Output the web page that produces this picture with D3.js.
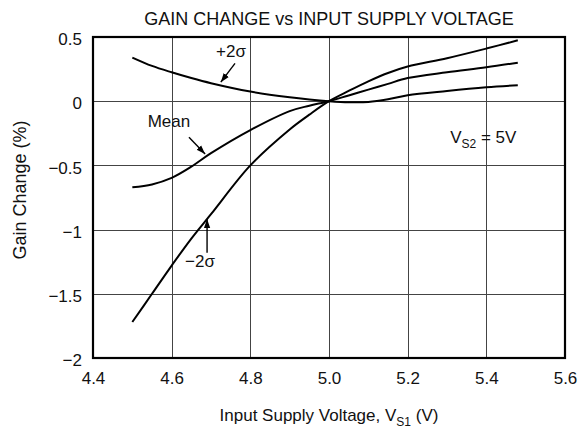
<!DOCTYPE html>
<html lang="en">
<head>
<meta charset="UTF-8">
<title>Gain Change vs Input Supply Voltage</title>
<script src="https://d3js.org/d3.v7.min.js"></script>
<style>
  body { margin: 0; background: #fff; }
  text { font-family: "Liberation Sans", Arial, sans-serif; fill: #111; }
</style>
</head>
<body>
<div id="chart"></div>
<script>
// data
var voltage = [4.5, 4.55, 4.6, 4.65, 4.7, 4.8, 4.9, 4.95, 5.0, 5.05, 5.1, 5.15, 5.2, 5.3, 5.4, 5.48];
var plus2s  = [0.34, 0.275, 0.225, 0.18, 0.14, 0.075, 0.03, 0.013, 0.0, -0.008, -0.006, 0.015, 0.047, 0.08, 0.108, 0.124];
var meanV   = [-0.67, -0.648, -0.597, -0.51, -0.405, -0.225, -0.077, -0.035, 0.0, 0.045, 0.09, 0.135, 0.18, 0.225, 0.264, 0.30];
var minus2s = [-1.72, -1.50, -1.28, -1.07, -0.88, -0.50, -0.22, -0.105, 0.0, 0.08, 0.155, 0.22, 0.27, 0.335, 0.41, 0.474];
var xTicks = [4.4, 4.6, 4.8, 5.0, 5.2, 5.4, 5.6];
var yTicks = [0.5, 0, -0.5, -1, -1.5, -2];

var W = 582, H = 430;
var margin = {top: 37, right: 17, bottom: 72, left: 93};
var width = W - margin.left - margin.right,
    height = H - margin.top - margin.bottom;

var x = d3.scaleLinear().domain([4.4, 5.6]).range([0, width]);
var y = d3.scaleLinear().domain([-2, 0.5]).range([height, 0]);

var svg = d3.select("#chart").append("svg")
    .attr("width", W)
    .attr("height", H);

svg.append("defs").append("marker")
    .attr("id", "arr")
    .attr("viewBox", "0 0 10 10")
    .attr("refX", 10).attr("refY", 5)
    .attr("markerWidth", 9).attr("markerHeight", 9)
    .attr("markerUnits", "userSpaceOnUse")
    .attr("orient", "auto")
  .append("path")
    .attr("d", "M0,1.5L10,5L0,8.5Z")
    .attr("fill", "#000");

svg.append("text")
    .attr("x", margin.left + width / 2)
    .attr("y", 25)
    .attr("text-anchor", "middle")
    .style("font-size", "18px")
    .text("GAIN CHANGE vs INPUT SUPPLY VOLTAGE");

var g = svg.append("g")
    .attr("transform", "translate(" + margin.left + "," + margin.top + ")");

// grid
g.selectAll(".vgrid")
    .data(xTicks.slice(1, -1))
  .enter().append("line")
    .attr("x1", function(d) { return Math.round(x(d)) + 0.5; })
    .attr("x2", function(d) { return Math.round(x(d)) + 0.5; })
    .attr("y1", 0).attr("y2", height)
    .attr("stroke", "#444").attr("stroke-width", 1);

g.selectAll(".hgrid")
    .data(yTicks.slice(1, -1))
  .enter().append("line")
    .attr("y1", function(d) { return Math.round(y(d)) + 0.5; })
    .attr("y2", function(d) { return Math.round(y(d)) + 0.5; })
    .attr("x1", 0).attr("x2", width)
    .attr("stroke", "#444").attr("stroke-width", 1);

// axes (labels only)
var xAxis = d3.axisBottom(x).tickValues(xTicks).tickSize(0).tickPadding(14)
    .tickFormat(d3.format(".1f"));
var gx = g.append("g")
    .attr("transform", "translate(0," + height + ")")
    .call(xAxis);
gx.select(".domain").remove();
gx.selectAll("text").style("font-size", "17px").attr("fill", "#111");

var yAxis = d3.axisLeft(y).tickValues(yTicks).tickSize(0).tickPadding(11)
    .tickFormat(function(d) { return d3.format("")(d).replace("-", "\u2212"); });
var gy = g.append("g").call(yAxis);
gy.select(".domain").remove();
gy.selectAll("text").style("font-size", "17px").attr("fill", "#111").attr("dy", "0.45em");

// frame
g.append("rect")
    .attr("x", 0).attr("y", 0)
    .attr("width", width).attr("height", height)
    .attr("fill", "none").attr("stroke", "#000").attr("stroke-width", 2.2);

// curves
var line = d3.line()
    .x(function(d) { return x(d[0]); })
    .y(function(d) { return y(d[1]); })
    .curve(d3.curveCatmullRom.alpha(0.5));

[plus2s, meanV, minus2s].forEach(function(s) {
  g.append("path")
      .datum(voltage.map(function(v, i) { return [v, s[i]]; }))
      .attr("d", line)
      .attr("fill", "none")
      .attr("stroke", "#000")
      .attr("stroke-width", 2);
});

// annotations
function label(vx, vy, t, anchor) {
  return g.append("text")
      .attr("x", x(vx)).attr("y", y(vy))
      .attr("text-anchor", anchor || "middle")
      .style("font-size", "17px")
      .text(t);
}
function arrow(vx1, vy1, vx2, vy2) {
  g.append("line")
      .attr("x1", x(vx1)).attr("y1", y(vy1)).attr("x2", x(vx2)).attr("y2", y(vy2))
      .attr("stroke", "#000").attr("stroke-width", 1.4)
      .attr("marker-end", "url(#arr)");
}

label(4.751, 0.342, "+2\u03c3");
arrow(4.761, 0.295, 4.725, 0.148);

label(4.593, -0.202, "Mean");
arrow(4.644, -0.28, 4.685, -0.412);

label(4.672, -1.29, "\u22122\u03c3");
arrow(4.69, -1.18, 4.69, -0.918);

var vs2 = label(5.308, -0.327, "", "start");
vs2.append("tspan").text("V");
vs2.append("tspan").attr("dy", 5).style("font-size", "12px").text("S2");
vs2.append("tspan").attr("dy", -5).text(" = 5V");

// axis titles
svg.append("text")
    .attr("transform", "translate(26,190) rotate(-90)")
    .attr("text-anchor", "middle")
    .style("font-size", "18px")
    .text("Gain Change (%)");

var xt = svg.append("text")
    .attr("x", margin.left + width / 2)
    .attr("y", 421)
    .attr("text-anchor", "middle")
    .style("font-size", "17px");
xt.append("tspan").text("Input Supply Voltage, V");
xt.append("tspan").attr("dy", 5).style("font-size", "12px").text("S1");
xt.append("tspan").attr("dy", -5).text(" (V)");
</script>
</body>
</html>
